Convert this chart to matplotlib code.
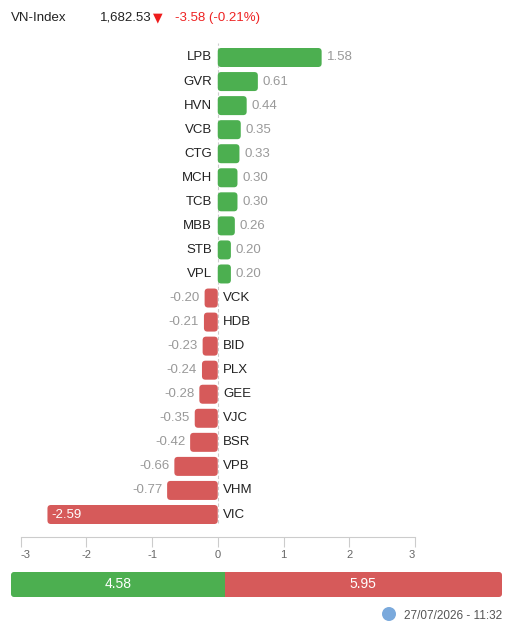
import matplotlib
matplotlib.use("Agg")
import matplotlib.pyplot as plt
from matplotlib.patches import FancyBboxPatch, Circle

plt.rcParams["font.family"] = ["Liberation Sans", "DejaVu Sans"]
plt.rcParams["axes.unicode_minus"] = False

# data
tickers = ["LPB", "GVR", "HVN", "VCB", "CTG", "MCH", "TCB", "MBB", "STB", "VPL",
           "VCK", "HDB", "BID", "PLX", "GEE", "VJC", "BSR", "VPB", "VHM", "VIC"]
impact = [1.58, 0.61, 0.44, 0.35, 0.33, 0.30, 0.30, 0.26, 0.20, 0.20,
          -0.20, -0.21, -0.23, -0.24, -0.28, -0.35, -0.42, -0.66, -0.77, -2.59]
x_ticks = [-3, -2, -1, 0, 1, 2, 3]
total_up = 4.58
total_down = 5.95
index_name = "VN-Index"
index_value = "1,682.53"
index_change = "-3.58 (-0.21%)"
timestamp = "27/07/2026 - 11:32"

GREEN = "#4caf50"
RED = "#d65a5a"
W, H = 509, 631


def fx(px):
    return px / W


def fy(py):
    return 1 - py / H


def round_bars(ax, bars, r, aspect):
    for b in bars:
        x, y = b.get_x(), b.get_y()
        w, h = b.get_width(), b.get_height()
        if w < 0:
            x, w = x + w, -w
        p = FancyBboxPatch((x, y), w, h,
                           boxstyle=f"round,pad=0,rounding_size={r}",
                           mutation_aspect=aspect,
                           facecolor=b.get_facecolor(), edgecolor="none")
        ax.add_patch(p)
        b.set_visible(False)


fig = plt.figure(figsize=(W / 100, H / 100), dpi=100)

# main bar chart
top_px, bot_px = 40, 537
first_px, last_px = 57.5, 514.5
ax = fig.add_axes([fx(20.5), fy(bot_px), fx(415) - fx(20.5), (bot_px - top_px) / H])
n = len(tickers)
rows = list(range(n))
colors = [GREEN if v > 0 else RED for v in impact]
bars = ax.barh(rows, impact, height=0.79, color=colors)
ax.set_xlim(-3, 3)
px_y = (last_px - first_px) / (n - 1)
ax.set_ylim(n - 1 + (bot_px - last_px) / px_y, -(first_px - top_px) / px_y)

px_x = (415 - 20.5) / 6
rad = 3.5
round_bars(ax, bars, rad / px_x, (rad / px_y) / (rad / px_x))

ax.axvline(0, ymin=0.028, ymax=0.994, color="#cccccc", lw=0.8, ls=(0, (3, 2)), zorder=0)

for i, (t, v) in enumerate(zip(tickers, impact)):
    lbl = f"{v:.2f}"
    if v > 0:
        ax.annotate(t, (0, i), xytext=(-4, 0), textcoords="offset points",
                    ha="right", va="center", fontsize=9.5, color="#222222")
        ax.annotate(lbl, (v, i), xytext=(3.5, 0), textcoords="offset points",
                    ha="left", va="center", fontsize=9.5, color="#999999")
    else:
        ax.annotate(t, (0, i), xytext=(4, 0), textcoords="offset points",
                    ha="left", va="center", fontsize=9.5, color="#222222")
        if abs(v) > 2:
            ax.annotate(lbl, (v, i), xytext=(3, 0), textcoords="offset points",
                        ha="left", va="center", fontsize=9.5, color="white")
        else:
            ax.annotate(lbl, (v, i), xytext=(-3.5, 0), textcoords="offset points",
                        ha="right", va="center", fontsize=9.5, color="#999999")

for s in ["top", "right", "left"]:
    ax.spines[s].set_visible(False)
ax.spines["bottom"].set_color("#cccccc")
ax.set_yticks([])
ax.set_xticks(x_ticks)
ax.set_xticklabels([str(t) for t in x_ticks])
ax.tick_params(axis="x", direction="out", length=7.5, width=0.8, color="#cccccc",
               labelsize=8, labelcolor="#666666", pad=1.5)
tl = ax.get_xticklabels()
tl[0].set_ha("left")
tl[-1].set_ha("right")

# bottom summary bar
ax2 = fig.add_axes([fx(11), fy(597), fx(502) - fx(11), 25 / H])
total = total_up + total_down
sb = ax2.barh([0], [total_up], height=1, color=GREEN)
sb2 = ax2.barh([0], [total_down], left=[total_up], height=1, color=RED)
ax2.set_xlim(0, total)
ax2.set_ylim(-0.5, 0.5)
ax2.axis("off")
r_x = 3 / (491 / total)
clip = FancyBboxPatch((0, -0.5), total, 1, boxstyle=f"round,pad=0,rounding_size={r_x}",
                      mutation_aspect=(3 / 25) / r_x, transform=ax2.transData,
                      facecolor="none", edgecolor="none")
ax2.add_patch(clip)
for b in list(sb) + list(sb2):
    b.set_clip_path(clip)
ax2.text(total_up / 2, 0, f"{total_up:.2f}", ha="center", va="center",
         color="white", fontsize=10)
ax2.text(total_up + total_down / 2, 0, f"{total_down:.2f}", ha="center", va="center",
         color="white", fontsize=10)

# header
fig.text(fx(11), fy(18), index_name, ha="left", va="center", fontsize=9.5, color="#222222")
fig.text(fx(100), fy(18), index_value, ha="left", va="center", fontsize=9.5, color="#222222")
fig.text(fx(153), fy(18), "\u25bc", ha="left", va="center", fontsize=9,
         color="#ee1c1c", family="DejaVu Sans")
fig.text(fx(175), fy(18), index_change, ha="left", va="center", fontsize=9.5, color="#ee2222")

# footer
fig.text(fx(502), fy(616), timestamp, ha="right", va="center", fontsize=8.5, color="#555555")
icon = Circle((389 / 100, (H - 614) / 100), 0.07, transform=fig.dpi_scale_trans,
              facecolor="#7aa9dc", edgecolor="none")
fig.patches.append(icon)

fig.savefig("out.png", dpi=100)
